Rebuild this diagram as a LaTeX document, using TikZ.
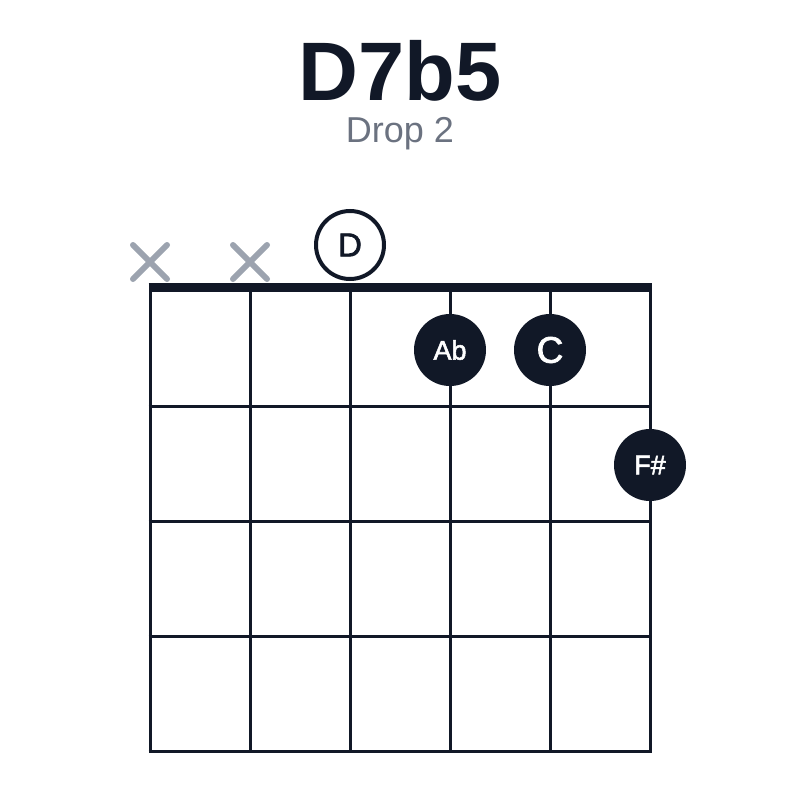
\documentclass[tikz,border=0pt]{standalone}
\usepackage{fontspec}
\setmainfont{Liberation Sans}
\newfontfamily\notefont[FakeBold=2]{Liberation Sans}
\usetikzlibrary{positioning}

\definecolor{ink}{HTML}{111827}
\definecolor{muted}{HTML}{6B7280}
\definecolor{xgray}{HTML}{9CA3AF}

\tikzset{
  fretline/.style={line width=3pt, color=ink},
  nutline/.style={line width=9pt, color=ink},
  finger/.style={circle, fill=ink, text=white, minimum size=72pt, inner sep=0pt},
  openstr/.style={circle, draw=ink, line width=4pt, fill=white, text=ink, minimum size=68pt, inner sep=0pt},
  mutex/.style={line width=6pt, color=xgray, line cap=round}
}

\begin{document}
\begin{tikzpicture}[x=1pt,y=-1pt]
    \useasboundingbox (0,0) rectangle (800,800);
      %title and voicing
    \node[font=\fontsize{83}{90}\selectfont\bfseries, text=ink, anchor=base, inner sep=0pt] (title) at (400,100) {D7b5};
    \node[font=\fontsize{36}{40}\selectfont, text=muted, anchor=base, inner sep=0pt] (voicing) at (400,142) {Drop 2};
      %strings and frets
    \foreach \s in {150,250,...,650}
      \draw[fretline] (\s,287) -- (\s,751);
    \foreach \f in {406,521,636,751}
      \draw[fretline] (148.5,\f) -- (651.5,\f);
      %nut
    \draw[nutline] (148.5,287.5) -- (651.5,287.5);
      %muted strings
    \foreach \s in {150,250}
      \draw[mutex] (\s-17,245) -- (\s+17,279) (\s-17,279) -- (\s+17,245);
      %open string and fingers
    \node[openstr, font=\notefont\fontsize{33}{36}\selectfont] (root) at (350,245) {D};
    \node[finger, font=\notefont\fontsize{27}{30}\selectfont] (flatfive) at (450,350) {Ab};
    \node[finger, font=\notefont\fontsize{37}{40}\selectfont] (seventh) at (550,350) {C};
    \node[finger, font=\notefont\fontsize{27}{30}\selectfont] (third) at (650,465) {F\#};
\end{tikzpicture}
\end{document}
